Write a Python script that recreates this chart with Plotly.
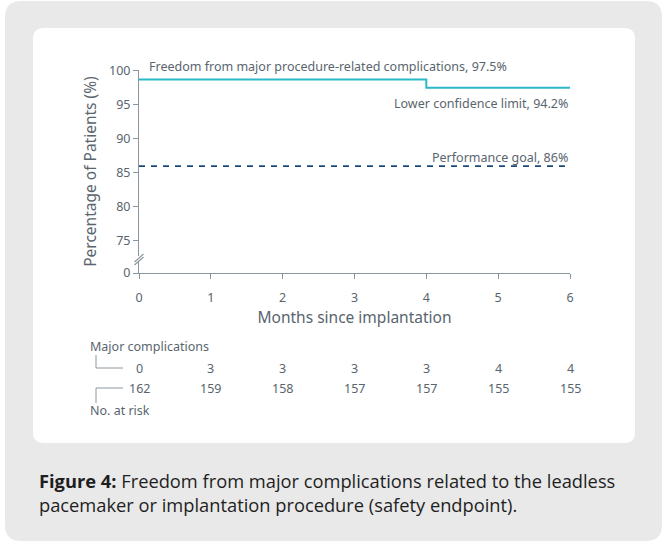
import plotly.graph_objects as go

# Kaplan-Meier style freedom-from-complication curve
months = [0, 1, 2, 3, 4, 5, 6]
freedom_pct = [98.7, 98.7, 98.7, 98.7, 97.5, 97.5, 97.5]
performance_goal = 86
lower_conf_limit = 94.2
freedom_final = 97.5

# Risk table
major_complications = [0, 3, 3, 3, 3, 4, 4]
at_risk = [162, 159, 158, 157, 157, 155, 155]

y_ticks = [70.3, 75, 80, 85, 90, 95, 100]
y_tick_text = ["0", "75", "80", "85", "90", "95", "100"]

W, H = 665, 544
ML, MR, MT, MB = 139, 95, 70, 271
PW, PH = W - ML - MR, H - MT - MB

TEAL = "#2bb9c9"
NAVY = "#1b4a78"
AXIS = "#8a969e"
TXT = "#59656e"
FONT = "Noto Sans"


def px(x):
    return (x - ML) / PW


def py(y):
    return (H - MB - y) / PH


def rounded(x0, y0, x1, y1, r):
    a, b, c, d = px(x0), py(y0), px(x1), py(y1)
    rx, ry = r / PW, r / PH
    return (f"M {a+rx},{b} L {c-rx},{b} Q {c},{b} {c},{b-ry} "
            f"L {c},{d+ry} Q {c},{d} {c-rx},{d} L {a+rx},{d} "
            f"Q {a},{d} {a},{d+ry} L {a},{b-ry} Q {a},{b} {a+rx},{b} Z")


fig = go.Figure()
fig.add_trace(go.Scatter(
    x=months, y=freedom_pct, mode="lines", line_shape="hv",
    line=dict(color=TEAL, width=2), hoverinfo="skip"))
fig.add_trace(go.Scatter(
    x=[months[0], months[-1]], y=[performance_goal] * 2, mode="lines",
    line=dict(color=NAVY, width=1.7, dash="6px,6px"), hoverinfo="skip"))

shapes = [
    dict(type="path", xref="paper", yref="paper", path=rounded(5, 1, 662, 541, 16),
         fillcolor="#e9e9e9", line=dict(width=0), layer="below"),
    dict(type="path", xref="paper", yref="paper", path=rounded(33, 28, 635, 443, 11),
         fillcolor="#ffffff", line=dict(width=0), layer="below"),
    # axis break on the y axis
    dict(type="rect", xref="paper", yref="paper", x0=px(134), x1=px(144),
         y0=py(262), y1=py(256), fillcolor="white", line=dict(width=0), layer="above"),
    dict(type="line", xref="paper", yref="paper", x0=px(134.5), y0=py(262),
         x1=px(143.5), y1=py(254), line=dict(color=AXIS, width=1.1)),
    dict(type="line", xref="paper", yref="paper", x0=px(134.5), y0=py(265),
         x1=px(143.5), y1=py(257), line=dict(color=AXIS, width=1.1)),
    # risk table brackets
    dict(type="path", xref="paper", yref="paper",
         path=f"M {px(96)},{py(355)} L {px(96)},{py(368)} L {px(123)},{py(368)}",
         line=dict(color=AXIS, width=1)),
    dict(type="path", xref="paper", yref="paper",
         path=f"M {px(96)},{py(403)} L {px(96)},{py(388)} L {px(123)},{py(388)}",
         line=dict(color=AXIS, width=1)),
]

ann = [
    dict(x=px(147), y=py(67), xref="paper", yref="paper", xanchor="left", yanchor="middle",
         text=f"Freedom from major procedure-related complications, {freedom_final}%",
         font=dict(size=12.5, color=TXT)),
    dict(x=1, y=py(103), xref="paper", yref="paper", xanchor="right", yanchor="middle",
         text=f"Lower confidence limit, {lower_conf_limit}%", font=dict(size=12.5, color=TXT)),
    dict(x=1, y=py(157), xref="paper", yref="paper", xanchor="right", yanchor="middle",
         text=f"Performance goal, {performance_goal}%", font=dict(size=12.5, color=TXT)),
    dict(x=px(88), y=py(346), xref="paper", yref="paper", xanchor="left", yanchor="middle",
         text="Major complications", font=dict(size=12.5, color=TXT)),
    dict(x=px(88), y=py(410), xref="paper", yref="paper", xanchor="left", yanchor="middle",
         text="No. at risk", font=dict(size=12.5, color=TXT)),
    dict(x=px(37), y=py(492), xref="paper", yref="paper", xanchor="left", yanchor="middle",
         align="left",
         text="<b>Figure 4:</b> Freedom from major complications related to the leadless<br>"
              "pacemaker or implantation procedure (safety endpoint).",
         font=dict(size=18.3, color="#1e1e1e", family="Open Sans")),
]
for m, c, n in zip(months, major_complications, at_risk):
    ann.append(dict(x=m, y=py(368), xref="x", yref="paper", xanchor="center", yanchor="middle",
                    text=str(c), font=dict(size=12.5, color=TXT)))
    ann.append(dict(x=m, y=py(388), xref="x", yref="paper", xanchor="center", yanchor="middle",
                    text=str(n), font=dict(size=12.5, color=TXT)))
for a in ann:
    a["showarrow"] = False

fig.update_layout(
    width=W, height=H, margin=dict(l=ML, r=MR, t=MT, b=MB),
    paper_bgcolor="white", plot_bgcolor="rgba(0,0,0,0)",
    font=dict(family=FONT, color=TXT), showlegend=False,
    shapes=shapes, annotations=ann,
    xaxis=dict(range=[0, 6], tickvals=months, showgrid=False, zeroline=False,
               showline=True, linecolor=AXIS, linewidth=1, ticks="outside",
               ticklen=5, tickcolor=AXIS, tickfont=dict(size=12.5, color=TXT),
               ticklabelstandoff=8,
               title=dict(text="Months since implantation", font=dict(size=15.5, color=TXT),
                          standoff=6)),
    yaxis=dict(range=[70.3, 100.1], tickvals=y_ticks, ticktext=y_tick_text,
               showgrid=False, zeroline=False, showline=True, linecolor=AXIS,
               linewidth=1, ticks="outside", ticklen=5, tickcolor=AXIS,
               tickfont=dict(size=12.5, color=TXT),
               title=dict(text="Percentage of Patients (%)", font=dict(size=15.5, color=TXT),
                          standoff=8)),
)

fig.write_html("out.html")
